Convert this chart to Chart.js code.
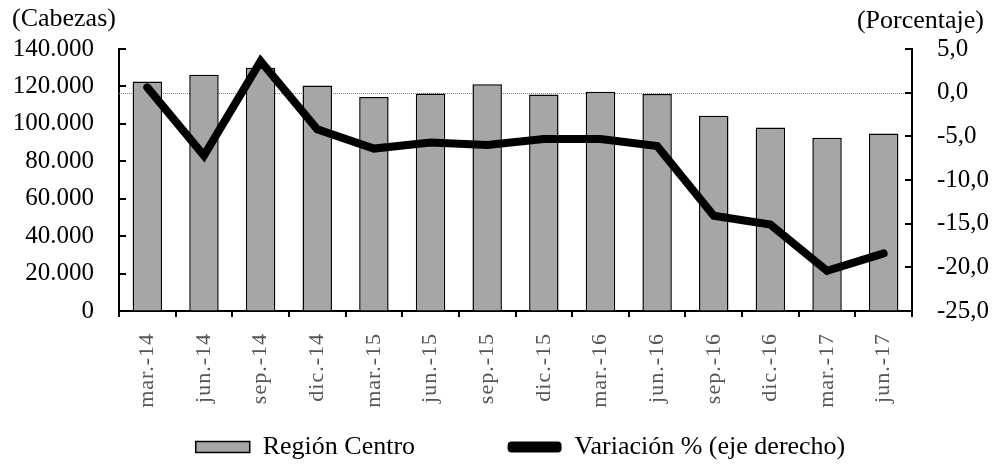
<!DOCTYPE html>
<html lang="es">
<head>
    <meta charset="UTF-8">
    <title>Región Centro</title>
    <script src="https://cdn.jsdelivr.net/npm/chart.js@4.4.0/dist/chart.umd.min.js"></script>
    <style>
        body { margin: 0; background: #fff; }
        #wrap { width: 995px; height: 470px; }
    </style>
</head>
<body>
<div id="wrap"><canvas id="grafico"></canvas></div>

<script>
// datos
var categorias = ['mar.-14', 'jun.-14', 'sep.-14', 'dic.-14', 'mar.-15', 'jun.-15', 'sep.-15',
                  'dic.-15', 'mar.-16', 'jun.-16', 'sep.-16', 'dic.-16', 'mar.-17', 'jun.-17'];
var cabezas = [122600, 126200, 130000, 120500, 114300, 116200, 121200,
               115700, 117100, 116000, 104300, 98100, 92600, 94900];
var variacion = [0.6, -7.2, 3.6, -4.2, -6.4, -5.7, -6.0,
                 -5.3, -5.3, -6.1, -14.1, -15.1, -20.4, -18.4];
var ticksIzq = ['0', '20.000', '40.000', '60.000', '80.000', '100.000', '120.000', '140.000'];
var ticksDer = ['-25,0', '-20,0', '-15,0', '-10,0', '-5,0', '0,0', '5,0'];

var fuente = "'Liberation Serif', 'Times New Roman', serif";

// titulos de ejes, linea punteada en 0 y marcas hacia adentro
var extras = {
    id: 'extras',
    afterLayout: function(chart) {
        // la leyenda del original esta algo corrida a la derecha
        if (chart.legend) chart.legend.left += 46;
    },
    beforeDatasetsDraw: function(chart) {
        var ctx = chart.ctx, area = chart.chartArea;
        var y0 = chart.scales.yDer.getPixelForValue(0);
        ctx.save();
        ctx.strokeStyle = '#808080';
        ctx.lineWidth = 1;
        ctx.setLineDash([1, 1]);
        ctx.beginPath();
        ctx.moveTo(area.left, Math.round(y0) + 0.5);
        ctx.lineTo(area.right, Math.round(y0) + 0.5);
        ctx.stroke();
        ctx.restore();
    },
    afterDraw: function(chart) {
        var ctx = chart.ctx, area = chart.chartArea;
        var izq = chart.scales.yIzq, der = chart.scales.yDer;
        ctx.save();
        ctx.strokeStyle = '#000';
        ctx.lineWidth = 2;
        ctx.beginPath();
        izq.ticks.forEach(function(t) {
            var y = Math.round(izq.getPixelForValue(t.value));
            ctx.moveTo(area.left, y);
            ctx.lineTo(area.left + 7, y);
        });
        der.ticks.forEach(function(t) {
            var y = Math.round(der.getPixelForValue(t.value));
            ctx.moveTo(area.right, y);
            ctx.lineTo(area.right - 7, y);
        });
        ctx.stroke();

        ctx.fillStyle = '#000';
        ctx.font = '26px ' + fuente;
        ctx.textBaseline = 'middle';
        ctx.textAlign = 'left';
        ctx.fillText('(Cabezas)', 12, 19);
        ctx.textAlign = 'right';
        ctx.fillText('(Porcentaje)', 984, 21);
        ctx.restore();
    }
};

var ctx = document.getElementById('grafico').getContext('2d');
var grafico = new Chart(ctx, {
    data: {
        labels: categorias,
        datasets: [{
            type: 'bar',
            label: 'Región Centro',
            data: cabezas,
            yAxisID: 'yIzq',
            backgroundColor: '#a6a6a6',
            borderColor: '#000',
            borderWidth: 1.5,
            barPercentage: 0.52,
            categoryPercentage: 1,
            order: 2
        }, {
            type: 'line',
            label: 'Variación % (eje derecho)',
            data: variacion,
            yAxisID: 'yDer',
            borderColor: '#000',
            backgroundColor: '#000',
            borderWidth: 8,
            borderCapStyle: 'round',
            borderJoinStyle: 'miter',
            pointRadius: 0,
            tension: 0,
            order: 1
        }]
    },
    options: {
        responsive: true,
        maintainAspectRatio: false,
        animation: false,
        layout: { padding: { top: 49, left: 0, right: 0, bottom: 0 } },
        plugins: {
            tooltip: { enabled: false },
            legend: {
                position: 'bottom',
                labels: {
                    color: '#000',
                    font: { family: fuente, size: 26 },
                    boxWidth: 54,
                    boxHeight: 11,
                    padding: 8,
                    useBorderRadius: true,
                    generateLabels: function(chart) {
                        return [{
                            text: 'Región Centro' + '\u00a0'.repeat(13),
                            fillStyle: '#a6a6a6',
                            strokeStyle: '#000',
                            lineWidth: 1.5,
                            borderRadius: 0,
                            fontColor: '#000',
                            datasetIndex: 0
                        }, {
                            text: 'Variación % (eje derecho)',
                            fillStyle: '#000',
                            strokeStyle: '#000',
                            lineWidth: 0,
                            borderRadius: 4,
                            fontColor: '#000',
                            datasetIndex: 1
                        }];
                    }
                }
            }
        },
        scales: {
            x: {
                offset: true,
                grid: { display: true, drawOnChartArea: false, offset: true, color: '#000', lineWidth: 2, tickLength: 6 },
                border: { display: true, color: '#000', width: 2 },
                ticks: {
                    color: '#555',
                    font: { family: fuente, size: 22 },
                    minRotation: 90,
                    maxRotation: 90,
                    padding: 16,
                    autoSkip: false
                },
                afterFit: function(scale) {
                    scale.height = 115;
                    if (!scale._espaciado) {
                        var original = scale.drawLabels;
                        scale.drawLabels = function(area) {
                            var c = this.ctx;
                            c.save();
                            c.letterSpacing = '1px';
                            original.call(this, area);
                            c.restore();
                        };
                        scale._espaciado = true;
                    }
                }
            },
            yIzq: {
                position: 'left',
                min: 0,
                max: 140000,
                grid: { drawOnChartArea: false, drawTicks: false },
                border: { display: true, color: '#000', width: 2 },
                ticks: {
                    stepSize: 20000,
                    padding: 25,
                    color: '#000',
                    font: { family: fuente, size: 25 },
                    callback: function(v, i) { return ticksIzq[i]; }
                },
                afterFit: function(scale) { scale.width = 119; }
            },
            yDer: {
                position: 'right',
                min: -25,
                max: 5,
                grid: { drawOnChartArea: false, drawTicks: false },
                border: { display: true, color: '#000', width: 2 },
                ticks: {
                    stepSize: 5,
                    padding: 25,
                    color: '#000',
                    font: { family: fuente, size: 25 },
                    callback: function(v, i) { return ticksDer[i]; }
                },
                afterFit: function(scale) { scale.width = 83; }
            }
        }
    },
    plugins: [extras]
});
</script>
</body>
</html>
